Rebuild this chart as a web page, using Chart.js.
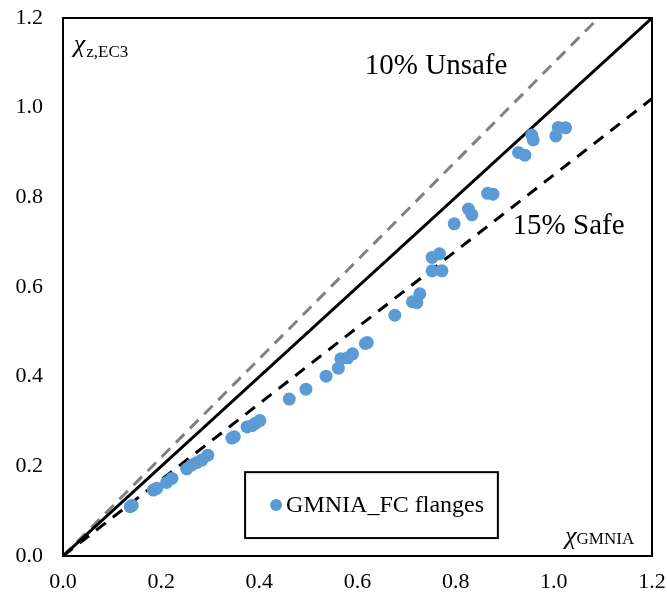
<!DOCTYPE html>
<html>
<head>
<meta charset="utf-8">
<script src="https://cdn.jsdelivr.net/npm/chart.js@4.4.1/dist/chart.umd.min.js"></script>
<style>
    html, body { margin: 0; padding: 0; background: #ffffff; }
    #wrap { width: 667px; height: 599px; position: relative; }
</style>
</head>
<body>
<div id="wrap"><canvas id="chart"></canvas></div>
<script>
// GMNIA_FC flanges: chi_GMNIA (x) vs chi_z,EC3 (y)
const chiGMNIA = [0.137, 0.141, 0.184, 0.191, 0.211, 0.222, 0.252, 0.262, 0.272, 0.283,
    0.295, 0.344, 0.349, 0.375, 0.385, 0.392, 0.401, 0.461, 0.495, 0.536,
    0.561, 0.566, 0.580, 0.590, 0.616, 0.620, 0.676, 0.712, 0.721, 0.727,
    0.752, 0.767, 0.752, 0.772, 0.797, 0.826, 0.833, 0.865, 0.876, 0.928,
    0.941, 0.955, 0.958, 1.004, 1.009, 1.024];
const chiEC3 = [0.110, 0.113, 0.147, 0.151, 0.164, 0.173, 0.194, 0.203, 0.208, 0.214,
    0.225, 0.263, 0.266, 0.288, 0.291, 0.296, 0.302, 0.350, 0.372, 0.401,
    0.419, 0.440, 0.442, 0.451, 0.474, 0.476, 0.537, 0.567, 0.565, 0.585,
    0.666, 0.674, 0.636, 0.636, 0.741, 0.774, 0.761, 0.809, 0.807, 0.900,
    0.894, 0.939, 0.928, 0.937, 0.956, 0.955];

// reference lines: y = x, 10% unsafe (y = 1.1x), 15% safe (y = 0.85x)
const equalX = [0, 1.2];
const equalY = [0, 1.2];
const unsafeX = [0, 1.2 / 1.1];
const unsafeY = [0, 1.2];
const safeX = [0, 1.2];
const safeY = [0, 1.02];

const tickValues = [0, 0.2, 0.4, 0.6, 0.8, 1.0, 1.2];
const seriesLabel = 'GMNIA_FC flanges';

const SERIF = '"Liberation Serif", "Times New Roman", serif';
const BLUE = '#5B9BD5';

const toPoints = (xs, ys) => xs.map((x, i) => ({ x: x, y: ys[i] }));

// frame around plot area
const framePlugin = {
    id: 'frame',
    afterDatasetsDraw(chart) {
        const { ctx, chartArea: a } = chart;
        ctx.save();
        ctx.strokeStyle = '#000';
        ctx.lineWidth = 2;
        ctx.strokeRect(a.left, a.top, a.right - a.left, a.bottom - a.top);
        ctx.restore();
    }
};

// annotations, axis titles and the legend box inside the plot
const notesPlugin = {
    id: 'notes',
    afterDraw(chart) {
        const { ctx } = chart;
        const xs = chart.scales.x;
        const ys = chart.scales.y;
        ctx.save();
        ctx.fillStyle = '#000';
        ctx.textBaseline = 'alphabetic';
        ctx.textAlign = 'left';

        ctx.font = '29px ' + SERIF;
        ctx.fillText('10% Unsafe', xs.getPixelForValue(0.615), ys.getPixelForValue(1.075));
        ctx.fillText('15% Safe', xs.getPixelForValue(0.916), ys.getPixelForValue(0.718));

        // chi_z,EC3
        let px = xs.getPixelForValue(0.022);
        let py = ys.getPixelForValue(1.125);
        ctx.font = 'italic 26px ' + SERIF;
        ctx.fillText('\u03C7', px, py);
        px += ctx.measureText('\u03C7').width + 1;
        ctx.font = '17px ' + SERIF;
        ctx.fillText('z,EC3', px, py + 5);

        // chi_GMNIA
        px = xs.getPixelForValue(1.023);
        py = ys.getPixelForValue(0.026);
        ctx.font = 'italic 26px ' + SERIF;
        ctx.fillText('\u03C7', px, py);
        px += ctx.measureText('\u03C7').width;
        ctx.font = '17px ' + SERIF;
        ctx.fillText('GMNIA', px, py);

        // legend
        const l = xs.getPixelForValue(0.371), r = xs.getPixelForValue(0.886);
        const t = ys.getPixelForValue(0.187), b = ys.getPixelForValue(0.040);
        ctx.fillStyle = '#fff';
        ctx.fillRect(l, t, r - l, b - t);
        ctx.strokeStyle = '#000';
        ctx.lineWidth = 2;
        ctx.strokeRect(l, t, r - l, b - t);
        const cy = (t + b) / 2;
        ctx.fillStyle = BLUE;
        ctx.beginPath();
        ctx.arc(l + 31, cy, 6, 0, Math.PI * 2);
        ctx.fill();
        ctx.fillStyle = '#000';
        ctx.textBaseline = 'middle';
        ctx.font = '24px ' + SERIF;
        ctx.fillText(seriesLabel, l + 41, cy + 1);
        ctx.restore();
    }
};

new Chart(document.getElementById('chart'), {
    type: 'scatter',
    data: {
        datasets: [
            {
                label: seriesLabel,
                data: toPoints(chiGMNIA, chiEC3),
                backgroundColor: BLUE,
                borderColor: BLUE,
                pointRadius: 6.5,
                borderWidth: 0
            },
            {
                label: 'y = x',
                data: toPoints(equalX, equalY),
                showLine: true,
                borderColor: '#000',
                borderWidth: 3,
                pointRadius: 0,
                fill: false
            },
            {
                label: '10% Unsafe',
                data: toPoints(unsafeX, unsafeY),
                showLine: true,
                borderColor: '#808080',
                borderWidth: 3,
                borderDash: [12, 8],
                pointRadius: 0,
                fill: false
            },
            {
                label: '15% Safe',
                data: toPoints(safeX, safeY),
                showLine: true,
                borderColor: '#000',
                borderWidth: 3,
                borderDash: [12, 9],
                pointRadius: 0,
                fill: false
            }
        ]
    },
    options: {
        responsive: true,
        maintainAspectRatio: false,
        animation: false,
        layout: { padding: { top: 18, right: 15, left: 0, bottom: 0 } },
        plugins: {
            legend: { display: false },
            tooltip: { enabled: false }
        },
        scales: {
            x: {
                type: 'linear',
                min: 0,
                max: 1.2,
                grid: { display: false, drawTicks: false },
                border: { display: false },
                afterBuildTicks(scale) {
                    scale.ticks = tickValues.map(v => ({ value: v }));
                },
                afterFit(scale) {
                    scale.height = 43;
                    scale.paddingLeft = 0;
                    scale.paddingRight = 0;
                },
                ticks: {
                    padding: 13,
                    color: '#000',
                    font: { family: SERIF, size: 22 },
                    callback: v => v.toFixed(1)
                }
            },
            y: {
                type: 'linear',
                min: 0,
                max: 1.2,
                grid: { display: false, drawTicks: false },
                border: { display: false },
                afterBuildTicks(scale) {
                    scale.ticks = tickValues.map(v => ({ value: v }));
                },
                afterFit(scale) {
                    scale.width = 63;
                    scale.paddingTop = 0;
                    scale.paddingBottom = 0;
                },
                ticks: {
                    padding: 20,
                    color: '#000',
                    font: { family: SERIF, size: 22 },
                    callback: v => v.toFixed(1)
                }
            }
        }
    },
    plugins: [framePlugin, notesPlugin]
});
</script>
</body>
</html>
